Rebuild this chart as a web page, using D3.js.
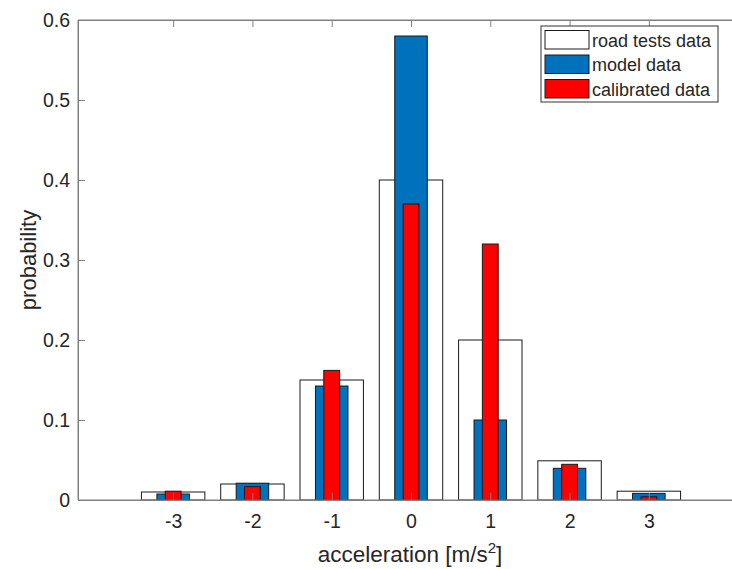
<!DOCTYPE html>
<html><head><meta charset="utf-8">
<script src="https://cdn.jsdelivr.net/npm/d3@7"></script>
<style>body{margin:0;background:#fff}svg{display:block}text{font-family:"Liberation Sans",Arial,sans-serif;fill:#262626}</style>
</head><body>
<script>
const categories = [-3, -2, -1, 0, 1, 2, 3];
const roadTests = [0.01, 0.02, 0.15, 0.40, 0.20, 0.049, 0.011];
const modelData = [0.0075, 0.021, 0.1425, 0.58, 0.10, 0.0396, 0.0083];
const calibrated = [0.011, 0.0167, 0.162, 0.37, 0.32, 0.0446, 0.004];
const yTicks = [0, 0.1, 0.2, 0.3, 0.4, 0.5, 0.6];
const seriesNames = ["road tests data", "model data", "calibrated data"];
const seriesColors = ["#ffffff", "#0072BD", "#FF0000"];

(function () {
const W = 732, H = 569;
const svg = d3.select("body").append("svg").attr("width", W).attr("height", H);
const mLeft = 78, mTop = 20, mBottom = 500;
const x = d3.scaleLinear().domain([-4.2, 4.2]).range([mLeft, mLeft + (411 - 78) * 2]);
const y = d3.scaleLinear().domain([0, 0.6]).range([mBottom, mTop]);
const mRight = x(4.2);

const series = [
  {vals: roadTests, w: 0.8, color: seriesColors[0]},
  {vals: modelData, w: 0.41, color: seriesColors[1]},
  {vals: calibrated, w: 0.2, color: seriesColors[2]}
];
series.forEach(s => {
  svg.append("g").selectAll("rect").data(categories).join("rect")
    .attr("x", (c) => x(c - s.w / 2))
    .attr("width", x(s.w) - x(0))
    .attr("y", (c, i) => y(s.vals[i]))
    .attr("height", (c, i) => y(0) - y(s.vals[i]))
    .attr("fill", s.color)
    .attr("stroke", "#1a1a1a").attr("stroke-width", 1);
});

const axColor = "#808080";
svg.append("path").attr("d", `M${mLeft},${mBottom}V${mTop}H${mRight}V${mBottom}Z`)
  .attr("fill", "none").attr("stroke", axColor).attr("stroke-width", 1);

const xAxis = d3.axisBottom(x).tickValues(categories).tickSize(-7).tickPadding(14).tickFormat(d => String(d));
const gx = svg.append("g").attr("transform", `translate(0,${mBottom})`).call(xAxis);
const xAxisTop = d3.axisTop(x).tickValues(categories).tickSize(-7).tickFormat("");
const gxt = svg.append("g").attr("transform", `translate(0,${mTop})`).call(xAxisTop);
const yAxis = d3.axisLeft(y).tickValues(yTicks).tickSize(-7).tickPadding(8).tickFormat(d => d === 0 ? "0" : d3.format(".1f")(d));
const gy = svg.append("g").attr("transform", `translate(${mLeft},0)`).call(yAxis);
const yAxisR = d3.axisRight(y).tickValues(yTicks).tickSize(-7).tickFormat("");
const gyr = svg.append("g").attr("transform", `translate(${mRight},0)`).call(yAxisR);
[gx, gxt, gy, gyr].forEach(g => {
  g.select(".domain").attr("stroke", axColor);
  g.selectAll(".tick line").attr("stroke", axColor);
  g.selectAll(".tick text").attr("font-size", 19.5).attr("fill", "#262626")
    .attr("font-family", "'Liberation Sans', Arial, sans-serif");
});

svg.append("text").attr("transform", `translate(36,260) rotate(-90)`)
  .attr("text-anchor", "middle").attr("font-size", 22).text("probability");
const xl = svg.append("text").attr("x", 410).attr("y", 562).attr("text-anchor", "middle").attr("font-size", 22.5);
xl.append("tspan").text("acceleration [m/s");
xl.append("tspan").attr("font-size", 15).attr("dy", -9).text("2");
xl.append("tspan").attr("dy", 9).text("]");

const lg = svg.append("g");
lg.append("rect").attr("x", 541).attr("y", 26).attr("width", 177).attr("height", 76)
  .attr("fill", "#fff").attr("stroke", "#333").attr("stroke-width", 1);
seriesNames.forEach((n, i) => {
  const yy = 30.5 + i * 24.5;
  lg.append("rect").attr("x", 545).attr("y", yy).attr("width", 44).attr("height", 18.5)
    .attr("fill", seriesColors[i]).attr("stroke", "#1a1a1a");
  lg.append("text").attr("x", 592).attr("y", yy + 16).attr("font-size", 18).text(n);
});
})();
</script>
</body></html>
